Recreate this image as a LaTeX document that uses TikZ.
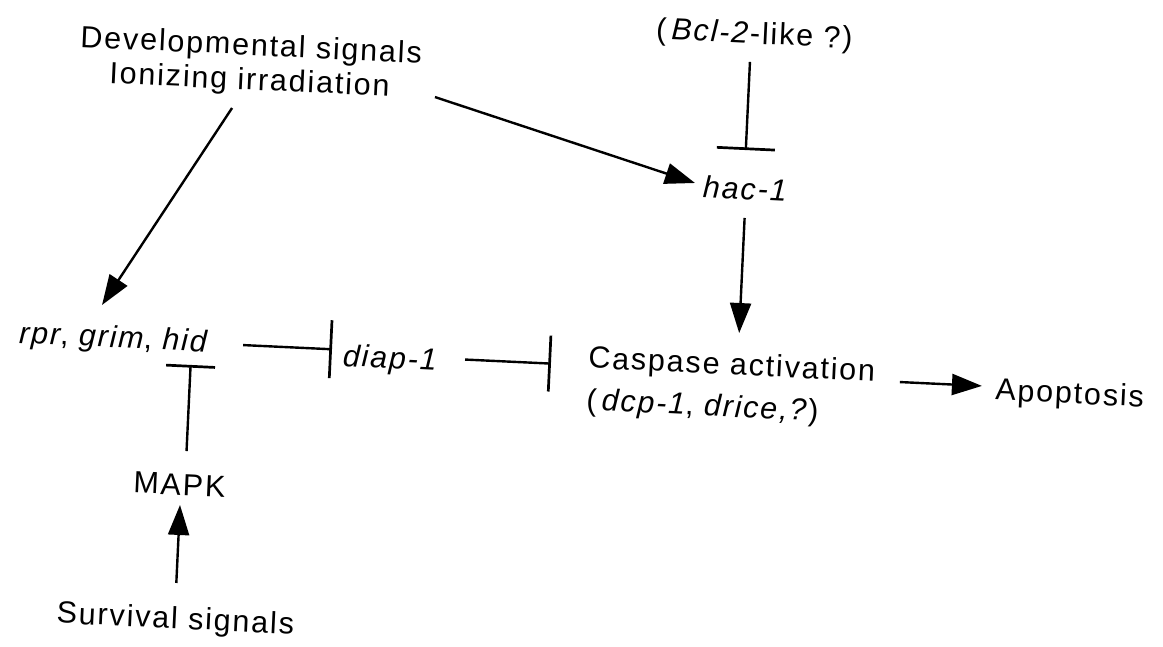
\documentclass[tikz,border=0pt]{standalone}
\usepackage{fontspec}
\setmainfont{Liberation Sans}[LetterSpace=6]
\usetikzlibrary{arrows.meta}
\begin{document}
\begin{tikzpicture}[x=1pt,y=-1pt,
  lbl/.style={inner sep=0pt, font=\fontsize{30.5}{36}\selectfont},
  act/.style={line width=2.4pt, -{Triangle[length=30pt,width=21pt]}},
  inh/.style={line width=2.4pt, -{Bar[width=#1,line width=2.7pt]}},
]
\useasboundingbox (0,0) rectangle (1163,646);
\begin{scope}[rotate around={-2.7:(581.5,323)}, transform shape]
  % labels (base anchor = baseline of the last line)
  \node[lbl, anchor=base, align=center, font=\fontsize{30.5}{34.7}\selectfont] (dev) at (238.5,105.7)
    {Developmental signals\\Ionizing irradiation};
  \node[lbl, anchor=base] (bcl) at (740.6,36) {(\,\textit{Bcl-2}-like ?)};
  \node[lbl, anchor=base] (hac) at (739.4,191.7) {\textit{hac-1}};
  \node[lbl, anchor=base] (rpr) at (115.6,369.5) {\textit{rpr}, \textit{grim}, \textit{hid}};
  \node[lbl, anchor=base] (diap) at (392.8,377.3) {\textit{diap-1}};
  \node[lbl, anchor=base west, align=left, font=\fontsize{30.5}{42.1}\selectfont] (casp) at (590,409.7)
    {Caspase activation\\(\,\textit{dcp-1}, \textit{drice,?})};
  \node[lbl, anchor=base west] (apop) at (998,380.4) {Apoptosis};
  \node[lbl, anchor=base] (mapk) at (187.5,513.8) {MAPK};
  \node[lbl, anchor=base] (surv) at (189.8,647.4) {Survival signals};

  % connector ports
  \coordinate (dev-l) at (222.3,124.7);
  \coordinate (dev-r) at (424.5,104.2);
  \coordinate (rpr-t) at (101.7,327.6);
  \coordinate (rpr-r) at (244.5,361);
  \coordinate (rpr-b) at (193,383.3);
  \coordinate (hac-l) at (688.3,177.8);
  \coordinate (hac-t) at (737.5,142.5);
  \coordinate (hac-b) at (739.5,210.4);
  \coordinate (bcl-b) at (737.5,54.3);
  \coordinate (diap-l) at (333.5,361);
  \coordinate (diap-r) at (466.9,365);
  \coordinate (casp-t) at (739.5,325.6);
  \coordinate (casp-l) at (552.9,365);
  \coordinate (casp-r) at (902.4,367);
  \coordinate (apop-l) at (984.5,367);
  \coordinate (mapk-t) at (193,469.5);
  \coordinate (mapk-b) at (189,523.7);
  \coordinate (surv-t) at (189,601.8);

  % activations
  \draw[act] (dev-l) -- (rpr-t);
  \draw[act] (dev-r) -- (hac-l);
  \draw[act] (hac-b) -- (casp-t);
  \draw[act] (casp-r) -- (apop-l);
  \draw[act] (surv-t) -- (mapk-b);

  % inhibitions
  \draw[inh=58pt] (bcl-b) -- (hac-t);
  \draw[inh=58pt] (rpr-r) -- (diap-l);
  \draw[inh=56pt] (diap-r) -- (casp-l);
  \draw[inh=49pt] (mapk-t) -- (rpr-b);
\end{scope}
\end{tikzpicture}
\end{document}
